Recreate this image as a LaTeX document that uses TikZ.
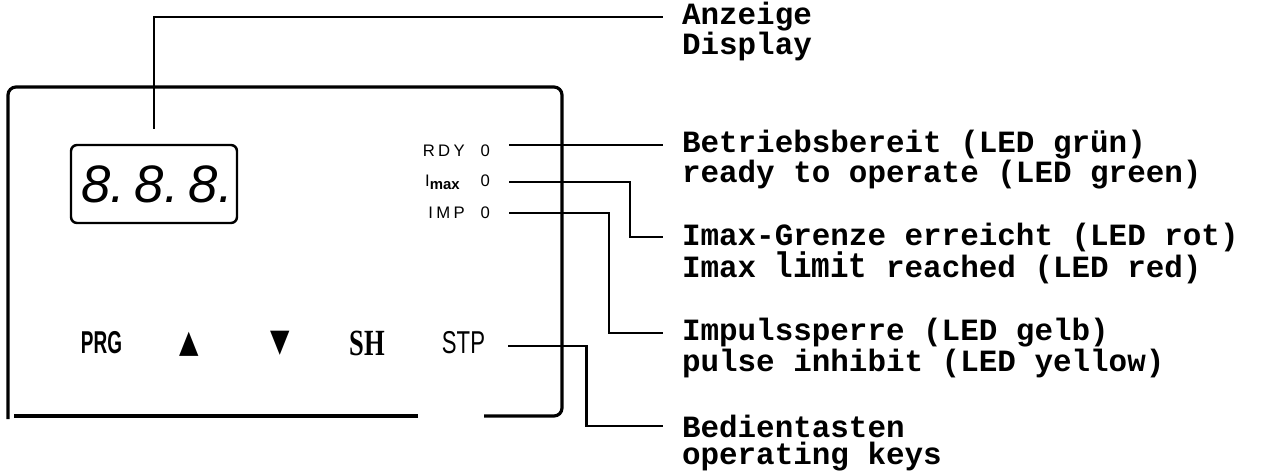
\documentclass[tikz,border=0pt]{standalone}
\usepackage{fontspec}
\setmainfont{Liberation Sans}
\newfontfamily\notefont{Liberation Mono}
\newfontfamily\ledfont[LetterSpace=20]{Liberation Sans}
\newfontfamily\keyserif{Liberation Serif}
\newfontfamily\symfont{DejaVu Sans}
\usetikzlibrary{positioning,calc}
\tikzset{
  lead/.style={
    line width=1.5pt,
    draw=black
  },
  panelline/.style={
    line width=1.8pt,
    draw=black
  },
  note/.style={
    anchor=west,
    inner sep=0pt,
    outer xsep=0.38cm,
    font=\fontsize{17.6}{18}\selectfont\notefont\bfseries
  },
  led/.style={
    anchor=east,
    inner sep=0pt,
    outer xsep=0.38cm,
    font=\fontsize{9.5}{10}\selectfont\ledfont
  },
  keylabel/.style={
    inner sep=0pt,
    font=\fontsize{18}{18}\selectfont
  },
  dispbox/.style={
    draw,
    line width=1.4pt,
    rounded corners=0.12cm,
    minimum width=3.32cm,
    minimum height=1.56cm,
    inner sep=0pt,
    font=\fontsize{30}{30}\selectfont\itshape
  }
}
\begin{document}
\begin{tikzpicture}[x=0.02cm, y=-0.02cm]
\useasboundingbox (0,0) rectangle (1262,474);
% front panel
\draw[panelline, rounded corners=0.16cm] (8,419) -- (8,87) -- (562,87) -- (562,416) -- (484,416);
\draw[panelline] (418,416) -- (14,416);
\node[dispbox] (disp) at (154,184) {\hspace{0.12cm}8.\kern0.2cm8.\kern0.2cm8.};
% LEDs
\node[led] (rdy) at (509,151) {RDY\ \ 0};
\node[led] (imax) at (509,182) {I\raisebox{-0.07cm}{\addfontfeature{LetterSpace=0}\fontsize{8.5}{9}\selectfont\bfseries max}\hspace{0.42cm}0};
\node[led] (imp) at (509,213) {IMP\ \ 0};
% keys
\node[keylabel] (prg) at (101.5,343) {\bfseries\scalebox{0.6}[1]{PRG}};
\node[keylabel] (up) at (189,344) {\symfont\scalebox{0.8}[1]{▲}};
\node[keylabel] (down) at (280,343) {\symfont\scalebox{0.8}[1]{▼}};
\node[keylabel] (sh) at (367,343) {\fontsize{21}{21}\selectfont\keyserif\bfseries\scalebox{0.72}[1]{SH}};
\node[keylabel] (stp) at (463.5,343) {\scalebox{0.7}[1]{STP}};
% labels
\node[note] (anzeige) at (663,17) {Anzeige};
\node[note] (display) at ($(anzeige.west)+(0,30)$) {Display};
\node[note] (bereit) at (663,145) {Betriebsbereit (LED grün)};
\node[note] (ready) at ($(bereit.west)+(0,30)$) {ready to operate (LED green)};
\node[note] (grenze) at (663,237) {Imax-Grenze erreicht (LED rot)};
\node[note] (limit) at ($(grenze.west)+(0,31)$) {Imax \scalebox{1}[1.15]{limit} reached (LED red)};
\node[note] (sperre) at (663,333) {Impulssperre (LED gelb)};
\node[note] (inhibit) at ($(sperre.west)+(0,30)$) {pulse inhibit (LED yellow)};
\node[note] (tasten) at (663,426) {Bedientasten};
\node[note] (keys) at ($(tasten.west)+(0,31)$) {operating keys};
% leader lines
\draw[lead] ($(disp.north)+(0,-15)$) |- (anzeige.west);
\draw[lead] (rdy.east |- bereit.west) -- (bereit.west);
\draw[lead] (imax.east) -- ++(121,0) |- (grenze.west);
\draw[lead] (imp.east) -- ++(100,0) |- (sperre.west);
\draw[lead] ($(stp.east)+(23,3)$) -- ++(78,0) |- (tasten.west);
\end{tikzpicture}
\end{document}
